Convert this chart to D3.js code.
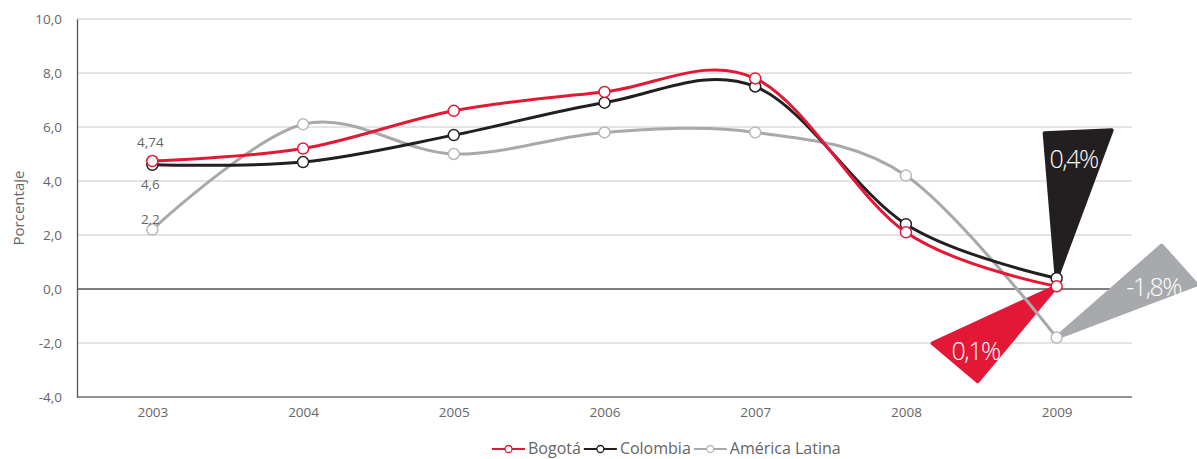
<!DOCTYPE html>
<meta charset="utf-8" />
<script src="https://d3js.org/d3.v7.min.js"></script>
<style>
  body { margin: 0; background: #fff; }
  text { font-family: "Open Sans", Lato, sans-serif; }
</style>
<svg id="chart" width="1197" height="459"></svg>
<script>
  // data
  var years = ["2003", "2004", "2005", "2006", "2007", "2008", "2009"];
  var bogota = [4.74, 5.2, 6.6, 7.3, 7.8, 2.1, 0.1];
  var colombia = [4.6, 4.7, 5.7, 6.9, 7.5, 2.4, 0.4];
  var latam = [2.2, 6.1, 5.0, 5.8, 5.8, 4.2, -1.8];
  var seriesNames = ["Bogotá", "Colombia", "América Latina"];
  var yTicks = [-4, -2, 0, 2, 4, 6, 8, 10];
  var startLabels = ["4,74", "4,6", "2,2"];
  var endLabels = ["0,1%", "0,4%", "-1,8%"];

  var svg = d3.select("#chart");
  var margin = { left: 77, right: 65, top: 19, bottom: 62 };
  var width = 1197, height = 459;

  var x = d3.scalePoint().domain(years).range([margin.left, width - margin.right]).padding(0.5);
  var y = d3.scaleLinear().domain([-4, 10]).range([height - margin.bottom, margin.top]);

  // plain hyphen and decimal comma, like the original
  var fmt = function(d) { return d.toFixed(1).replace(".", ","); };

  // grid
  svg.append("g").selectAll("line").data(yTicks).enter().append("line")
    .attr("x1", margin.left).attr("x2", width - margin.right)
    .attr("y1", function(d) { return y(d); }).attr("y2", function(d) { return y(d); })
    .attr("stroke", function(d) { return d === 0 ? "#555" : "#c8c8c8"; })
    .attr("stroke-width", function(d) { return d === 0 ? 1.3 : 1; });
  svg.append("line").attr("x1", margin.left).attr("x2", width - margin.right)
    .attr("y1", y(-4)).attr("y2", y(-4)).attr("stroke", "#777").attr("stroke-width", 1.3);

  // axes
  var yAxis = svg.append("g").attr("transform", "translate(" + margin.left + ",0)")
    .call(d3.axisLeft(y).tickValues(yTicks).tickFormat(fmt).tickSize(0).tickPadding(15));
  yAxis.select(".domain").attr("stroke", "#555").attr("stroke-width", 1.3);
  yAxis.selectAll("text").attr("fill", "#666").style("font-size", "13.5px");

  var xAxis = svg.append("g").attr("transform", "translate(0," + y(-4) + ")")
    .call(d3.axisBottom(x).tickSize(0).tickPadding(10));
  xAxis.select(".domain").remove();
  xAxis.selectAll("text").attr("fill", "#666").style("font-size", "13.5px");

  svg.append("text").attr("transform", "translate(24," + y(3) + ") rotate(-90)")
    .attr("text-anchor", "middle").attr("fill", "#666").style("font-size", "15px")
    .text("Porcentaje");

  var colors = ["#e31837", "#231f20", "#a7a9ac"];
  var dotStroke = ["#e31837", "#231f20", "#b8b9bb"];
  var all = [bogota, colombia, latam];

  var line = d3.line()
    .x(function(d, i) { return x(years[i]); })
    .y(function(d) { return y(d); })
    .curve(d3.curveCardinal.tension(0));

  // callouts (drawn below lines)
  var last = years[years.length - 1];
  var callouts = [
    { s: 0, pts: [[-124, 57], [-79, 95]], tx: -81, ty: 74 },
    { s: 1, pts: [[-12, -145], [55, -148]], tx: 17, ty: -110 },
    { s: 2, pts: [[105, -92], [140, -53]], tx: 97, ty: -42 }
  ];
  callouts.forEach(function(c) {
    var ax = x(last), ay = y(all[c.s][all[c.s].length - 1]);
    var p = [[ax, ay]].concat(c.pts.map(function(q) { return [ax + q[0], ay + q[1]]; }));
    svg.append("polygon")
      .attr("points", p.map(function(q) { return q.join(","); }).join(" "))
      .attr("fill", colors[c.s]).attr("stroke", colors[c.s])
      .attr("stroke-width", 4).attr("stroke-linejoin", "round");
    svg.append("text").attr("x", ax + c.tx).attr("y", ay + c.ty)
      .attr("text-anchor", "middle").attr("fill", "#fff")
      .style("font-size", "25px").style("font-weight", 300).style("letter-spacing", "-1.5px")
      .text(endLabels[c.s]);
  });

  // draw grey first, then black, then red
  [2, 1, 0].forEach(function(s) {
    svg.append("path").datum(all[s]).attr("d", line)
      .attr("fill", "none").attr("stroke", colors[s]).attr("stroke-width", 3);
    svg.append("g").selectAll("circle").data(all[s]).enter().append("circle")
      .attr("cx", function(d, i) { return x(years[i]); })
      .attr("cy", function(d) { return y(d); })
      .attr("r", 5.5).attr("fill", "#fff")
      .attr("stroke", dotStroke[s]).attr("stroke-width", 1.5);
  });

  // start labels
  var labOff = [-14, 24, -6];
  all.forEach(function(arr, s) {
    svg.append("text").attr("x", x(years[0]) - 2).attr("y", y(arr[0]) + labOff[s])
      .attr("text-anchor", "middle").attr("fill", "#666").style("font-size", "13.5px")
      .text(startLabels[s]);
  });

  // legend
  var legend = svg.append("g").attr("transform", "translate(492,449)");
  var lx = 0;
  seriesNames.forEach(function(name, s) {
    var g = legend.append("g").attr("transform", "translate(" + lx + ",0)");
    g.append("line").attr("x1", 0).attr("x2", 33).attr("stroke", colors[s]).attr("stroke-width", 2);
    g.append("circle").attr("cx", 16.5).attr("r", 3.5).attr("fill", "#fff")
      .attr("stroke", dotStroke[s]).attr("stroke-width", 1.3);
    var t = g.append("text").attr("x", 36).attr("y", 5).attr("fill", "#666")
      .style("font-size", "16px").text(name);
    lx += 36 + t.node().getComputedTextLength() + 3;
  });
</script>
